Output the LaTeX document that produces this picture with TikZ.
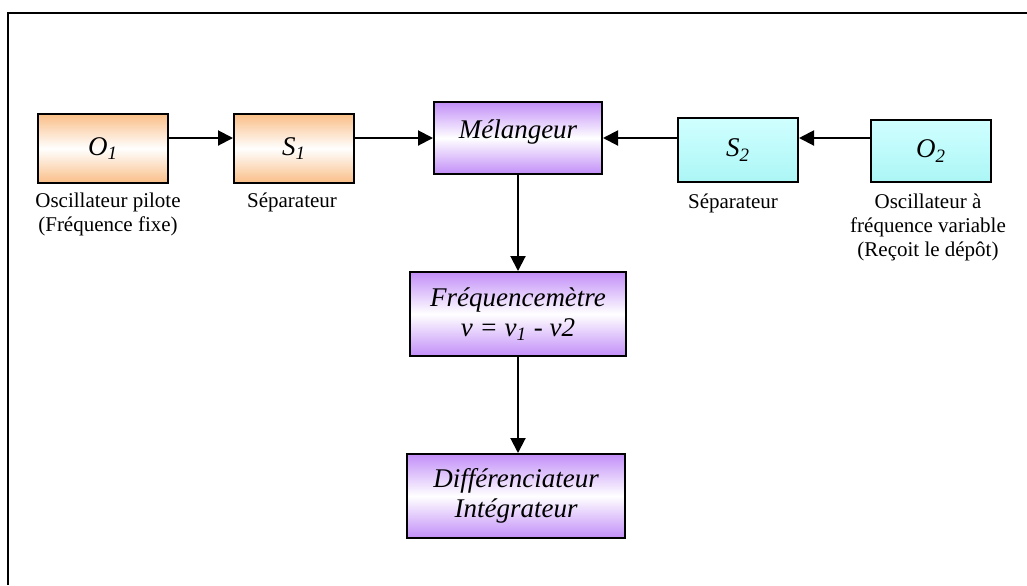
\documentclass[tikz,border=0pt]{standalone}
\usepackage{fontspec}
\setmainfont{Liberation Serif}
\usetikzlibrary{arrows.meta,positioning}

\definecolor{orangebox}{RGB}{250,190,135}
\definecolor{purplebox}{RGB}{194,142,248}
\definecolor{cyantop}{RGB}{208,255,255}
\definecolor{cyanbot}{RGB}{172,246,246}

\tikzset{
  block/.style={draw,line width=1pt,inner sep=0pt,align=center,
    font=\fontsize{13.5}{15}\selectfont\itshape},
  orangeblock/.style={block,top color=orangebox,bottom color=orangebox,middle color=white},
  purpleblock/.style={block,top color=purplebox,bottom color=purplebox,middle color=white},
  cyanblock/.style={block,top color=cyantop,bottom color=cyanbot},
  note/.style={inner sep=0pt,align=center,font=\fontsize{10.5}{12}\selectfont}
}

\begin{document}
\begin{tikzpicture}[x=0.5pt,y=-0.5pt,>={Triangle[length=7.5pt,width=7.5pt]},line width=1pt]
    \useasboundingbox (0,0) rectangle (1027,585);
    \draw (1027,13) -- (8,13) -- (8,585);

    \node[orangeblock,minimum width=65pt,minimum height=34.5pt] (o1) at (103,148.5) {O\textsubscript{1}};
    \node[orangeblock,minimum width=60pt,minimum height=34.5pt] (s1) [right=32pt of o1] {S\textsubscript{1}};
    \node[purpleblock,minimum width=84pt,minimum height=36pt,text height=9pt,text depth=9pt] (mel) [right=39pt of s1,yshift=5.25pt] {Mélangeur};
    \node[cyanblock,minimum width=60pt,minimum height=32pt] (s2) [right=37pt of mel,yshift=-6pt] {S\textsubscript{2}};
    \node[cyanblock,minimum width=60pt,minimum height=31pt] (o2) [right=35.5pt of s2,yshift=-0.5pt] {O\textsubscript{2}};
    \node[purpleblock,minimum width=108pt,minimum height=42pt] (freq) [below=48pt of mel] {Fréquencemètre\\v = v\textsubscript{1} - v2};
    \node[purpleblock,minimum width=109pt,minimum height=42pt] (diff) [below=48pt of freq,xshift=-1pt] {Différenciateur\\Intégrateur};

    \node[note] (lo1) [below=4pt of o1,xshift=2.5pt] {Oscillateur pilote\\(Fréquence fixe)};
    \node[note] (ls1) [below=4pt of s1,xshift=-1pt] {Séparateur};
    \node[note] (ls2) [below=5pt of s2,xshift=-2.5pt] {Séparateur};
    \node[note] (lo2) [below=5pt of o2,xshift=-1.5pt] {Oscillateur à\\fréquence variable\\(Reçoit le dépôt)};

    \draw[->] (o1.east |- mel) -- (s1.west |- mel);
    \draw[->] (s1.east |- mel) -- (mel.west);
    \draw[->] (s2.west |- mel) -- (mel.east);
    \draw[->] (o2.west |- mel) -- (s2.east |- mel);
    \draw[->] (mel.south) -- (freq.north);
    \draw[->] (freq.south) -- (freq.south |- diff.north);
\end{tikzpicture}
\end{document}
